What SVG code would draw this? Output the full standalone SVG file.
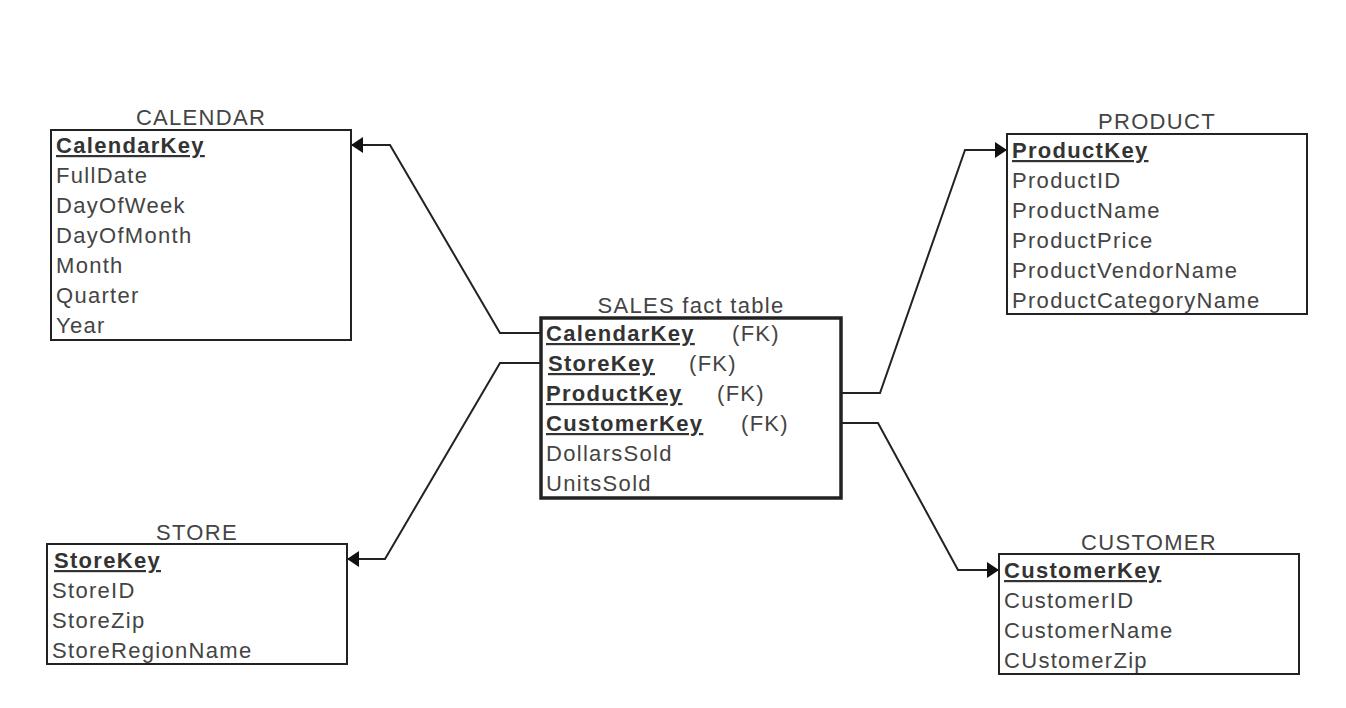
<svg xmlns="http://www.w3.org/2000/svg" width="1346" height="708" viewBox="0 0 1346 708">
<style>
text{font-family:"Liberation Sans",Arial,sans-serif;font-size:22px;letter-spacing:1.3px;fill:#444}
.t{text-anchor:middle;fill:#444}
.k{font-weight:bold;fill:#333;text-decoration:underline}
.box{fill:#fff;stroke:#222;stroke-width:2}
.fact{fill:#fff;stroke:#222;stroke-width:3.5}
.c{fill:none;stroke:#222;stroke-width:2}
</style>
<defs>
<marker id="ah" viewBox="0 0 12 16" refX="12" refY="8" markerWidth="12" markerHeight="16" markerUnits="userSpaceOnUse" orient="auto">
<path d="M0,0 L12,8 L0,16 z" fill="#111"/>
</marker>
</defs>
<rect width="1346" height="708" fill="#fff"/>
<g id="connectors">
<polyline class="c" points="541,333 500,333 390,145 351,145" marker-end="url(#ah)"/>
<polyline class="c" points="541,363 500,363 385,559 347,559" marker-end="url(#ah)"/>
<polyline class="c" points="842,393 880,393 965,150 1007,150" marker-end="url(#ah)"/>
<polyline class="c" points="842,423 878,423 958,570 999,570" marker-end="url(#ah)"/>
</g>
<g id="calendar">
<text class="t" x="201" y="125">CALENDAR</text>
<rect class="box" x="51" y="130" width="300" height="210"/>
<text class="k" x="56" y="153">CalendarKey</text>
<text x="56" y="183">FullDate</text>
<text x="56" y="213">DayOfWeek</text>
<text x="56" y="243">DayOfMonth</text>
<text x="56" y="273">Month</text>
<text x="56" y="303">Quarter</text>
<text x="56" y="333">Year</text>
</g>
<g id="sales">
<text class="t" x="691" y="313">SALES fact table</text>
<rect class="fact" x="541" y="318" width="300" height="180"/>
<text class="k" x="546" y="341">CalendarKey</text><text x="732" y="341">(FK)</text>
<text class="k" x="548" y="371">StoreKey</text><text x="689" y="371">(FK)</text>
<text class="k" x="546" y="401">ProductKey</text><text x="717" y="401">(FK)</text>
<text class="k" x="546" y="431">CustomerKey</text><text x="741" y="431">(FK)</text>
<text x="546" y="461">DollarsSold</text>
<text x="546" y="491">UnitsSold</text>
</g>
<g id="store">
<text class="t" x="197" y="540">STORE</text>
<rect class="box" x="47" y="544" width="300" height="120"/>
<text class="k" x="54" y="568">StoreKey</text>
<text x="52" y="598">StoreID</text>
<text x="52" y="628">StoreZip</text>
<text x="52" y="658">StoreRegionName</text>
</g>
<g id="product">
<text class="t" x="1157" y="129">PRODUCT</text>
<rect class="box" x="1007" y="134" width="300" height="180"/>
<text class="k" x="1012" y="158">ProductKey</text>
<text x="1012" y="188">ProductID</text>
<text x="1012" y="218">ProductName</text>
<text x="1012" y="248">ProductPrice</text>
<text x="1012" y="278">ProductVendorName</text>
<text x="1012" y="308">ProductCategoryName</text>
</g>
<g id="customer">
<text class="t" x="1149" y="550">CUSTOMER</text>
<rect class="box" x="999" y="554" width="300" height="120"/>
<text class="k" x="1004" y="578">CustomerKey</text>
<text x="1004" y="608">CustomerID</text>
<text x="1004" y="638">CustomerName</text>
<text x="1004" y="668">CUstomerZip</text>
</g>
</svg>
